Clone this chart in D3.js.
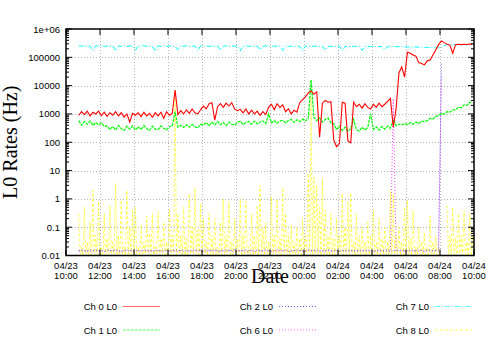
<!DOCTYPE html>
<html lang="en">
<head>
<meta charset="utf-8">
<title>L0 Rates</title>
<script src="https://cdnjs.cloudflare.com/ajax/libs/d3/7.8.5/d3.min.js"></script>
<style>
    body { margin: 0; background: #fff; }
    text { font-family: "Liberation Sans", Arial, sans-serif; font-size: 9.5px; fill: #000; }
    .title { font-family: "Liberation Serif", "Times New Roman", serif; font-size: 20px; }
</style>
</head>
<body>
<div id="chart"></div>
<script>
    // rates sampled every 10 minutes (ch8 every 5), starting 04/23 10:45
    var startTime = Date.UTC(2013, 3, 23, 10, 45);
    var stepMinutes = 10;
    var ch8StepMinutes = 5;

    var yTickLabels = ["0.01", "0.1", "1", "10", "100", "1000", "10000", "100000", "1e+06"];

    var ch0 = [900, 1200, 950, 1250, 850, 1150, 1000, 1250, 880, 1150, 820, 1100, 900, 1200, 850, 1100, 780,
        1000, 520, 1050, 900, 1100, 800, 1150, 850, 1050, 760, 1100, 850, 1150, 700, 1200, 900, 1050, 7000,
        950, 1300, 1000, 1400, 1050, 1500, 1100, 1000, 1400, 1900, 1500, 2300, 2500, 600,
        1800, 2300, 1700, 2400, 1900, 2500, 1500, 1300, 1450, 1100, 1500, 1000, 1350, 1000, 1250, 900, 1200, 950,
        1700, 2200, 1400, 2300, 1700, 2100, 1200, 1500, 1000, 1350, 1150,
        2500, 3200, 4000, 5500, 6500, 5000, 6000, 150, 2400, 3000, 2600, 2700, 120, 70, 90, 2600, 2400, 110, 95,
        2600, 1800, 2200, 1600, 2300, 1700, 1500, 2200, 1700, 2400, 1800, 2200, 2800, 3500, 340, 1500,
        28000, 46000, 20000, 150000, 140000, 120000, 110000, 65000, 60000, 54000, 75000, 80000, 120000,
        180000, 280000, 380000, 330000, 290000, 270000, 140000, 280000, 290000, 280000, 290000, 285000,
        295000, 290000];

    var ch1 = [580, 400, 540, 430, 560, 390, 500, 410, 480, 360,
        380, 280, 360, 270, 390, 300, 260, 370, 290, 380, 270, 350, 280, 390, 300, 260, 370, 290, 280, 380,
        310, 270, 360, 370, 1200, 340, 400, 330, 410, 340, 430, 350, 320, 430,
        400, 500, 380, 510, 410, 540, 420, 500, 390, 520, 430, 400, 510, 550, 420, 500, 540, 430, 560, 440,
        520, 570, 450, 1000, 480, 590, 460, 560, 600, 480, 580, 640, 500, 620, 530, 660, 560, 700, 16000,
        760, 580, 720, 520, 640, 720, 480, 450, 280, 370, 260, 340, 240, 300, 650, 280, 250, 340, 270, 330,
        1000, 280, 350, 270, 360, 290, 370, 310, 650, 380, 440, 410, 460, 420, 490, 430, 520, 460, 560, 540,
        580, 700, 660, 820, 860, 1050, 980, 1200, 1150, 1400, 1380, 1750, 1650, 2100, 2000, 2600, 2500];

    var ch2 = [0.015, 0.016, 0.015, 0.014, 0.016, 0.015, 0.016, 0.015, 0.015, 0.014, 0.016, 0.015, 0.015,
        0.016, 0.015, 0.014, 0.015, 0.016, 0.015, 0.015, 0.016, 0.014, 0.015, 0.016, 0.015, 0.015, 0.014,
        0.016, 0.015, 0.015, 0.016, 0.015, 0.014, 0.015, 0.016, 0.015, 0.015, 0.016, 0.014, 0.015, 0.015,
        0.016, 0.015, 0.015, 0.014, 0.016, 0.015, 0.015, 0.016, 0.015, 0.014, 0.015, 0.016, 0.015, 0.015,
        0.016, 0.014, 0.015, 0.015, 0.016, 0.015, 0.015, 0.014, 0.016, 0.015, 0.015, 0.016, 0.015, 0.014,
        0.015, 0.016, 0.015, 0.015, 0.016, 0.014, 0.015, 0.015, 0.016, 0.015, 0.015, 0.014, 0.016, 0.015,
        0.015, 0.016, 0.015, 0.014, 0.015, 0.016, 0.015, 0.015, 0.016, 0.014, 0.015, 0.015, 0.016, 0.015,
        0.015, 0.014, 0.016, 0.015, 0.015, 0.016, 0.015, 0.014, 0.015, 0.016, 0.015, 0.015, 0.016, 0.014,
        0.015, 0.015, 0.016, 0.015, 0.015, 0.014, 0.016, 0.015, 0.015, 0.016, 0.015, 0.014, 0.015, 0.016,
        0.015, 0.015, 0.016, 60000];

    var ch6 = [0.014, 0.015, 0.014, 0.015, 0.014, 0.014, 0.015, 0.014, 0.015, 0.014, 0.014, 0.015, 0.014,
        0.015, 0.014, 0.014, 0.015, 0.014, 0.015, 0.014, 0.014, 0.015, 0.014, 0.015, 0.014, 0.014, 0.015,
        0.014, 0.015, 0.014, 0.014, 0.015, 0.014, 0.015, 0.014, 0.014, 0.015, 0.014, 0.015, 0.014, 0.014,
        0.015, 0.014, 0.015, 0.014, 0.014, 0.015, 0.014, 0.015, 0.014, 0.014, 0.015, 0.014, 0.015, 0.014,
        0.014, 0.015, 0.014, 0.015, 0.014, 0.014, 0.015, 0.014, 0.015, 0.014, 0.014, 0.015, 0.014, 0.015,
        0.014, 0.014, 0.015, 0.014, 0.015, 0.014, 0.014, 0.015, 0.014, 0.015, 0.014, 0.014, 0.015, 0.014,
        0.015, 0.014, 0.014, 0.015, 0.014, 0.015, 0.014, 0.014, 0.015, 0.014, 0.015, 0.014, 0.014, 0.015,
        0.014, 0.015, 0.014, 0.014, 0.015, 0.014, 0.015, 0.014, 0.014, 0.015, 0.014, 0.015, 0.014, 0.014,
        3500, 0.014, 0.015, 0.014, 0.014, 0.015, 0.014, 0.015, 0.014, 0.014, 0.015, 0.014, 0.015, 0.014,
        0.014, 0.015, 0.014, 20000];

    var ch7 = [255000, 245000, 260000, 240000, 250000, 175000, 255000, 248000, 262000, 238000, 252000,
        246000, 258000, 170000, 250000, 244000, 256000, 240000, 252000, 248000, 180000, 254000, 246000,
        258000, 242000, 250000, 247000, 165000, 255000, 243000, 257000, 241000, 251000, 249000, 246000,
        185000, 254000, 244000, 256000, 240000, 250000, 248000, 172000, 253000, 245000, 257000, 242000,
        251000, 247000, 255000, 178000, 244000, 256000, 241000, 250000, 248000, 254000, 168000, 245000,
        256000, 242000, 250000, 247000, 253000, 182000, 244000, 255000, 241000, 249000, 246000, 252000,
        243000, 175000, 254000, 240000, 250000, 246000, 252000, 244000, 170000, 253000, 241000, 248000,
        245000, 251000, 242000, 250000, 180000, 246000, 240000, 249000, 243000, 250000, 165000, 245000,
        238000, 248000, 242000, 247000, 240000, 175000, 246000, 238000, 244000, 240000, 245000, 236000,
        243000, 185000, 240000, 235000, 242000, 236000, 240000, 233000, 238000, 230000, 236000, 228000,
        232000, 225000, 230000, 222000, 226000, 218000, 222000, 215000, 220000, 225000, 260000, 280000,
        275000, 285000, 278000, 282000, 276000, 284000, 279000, 283000, 280000, 285000, 282000];

    var ch8 = [0.3, 0.008, 0.02, 0.01, 0.5, 0.007, 0.03, 0.009, 0.15, 0.008, 2.0, 0.01, 0.05, 0.007, 0.8, 0.009,
        0.02, 0.008, 0.3, 0.01, 0.04, 0.007, 0.6, 0.009, 0.03, 0.008, 3.5, 0.01, 0.05, 0.007, 0.9, 0.009,
        0.02, 0.008, 2.0, 0.01, 0.1, 0.007, 0.4, 0.009, 0.5, 0.008, 0.02, 0.01, 0.12, 0.007, 0.03, 0.009,
        0.25, 0.008, 0.06, 0.01, 0.3, 0.007, 0.02, 0.009, 0.35, 0.008, 0.04, 0.01, 0.15, 0.007, 0.03, 0.009,
        0.4, 0.008, 0.05, 0.01, 7000, 0.007, 0.3, 0.009, 0.05, 0.008, 0.5, 0.01, 0.04, 0.007, 1.5, 0.009,
        0.1, 0.008, 2.5, 0.01, 0.08, 0.007, 0.7, 0.009, 0.2, 0.008, 0.03, 0.01, 0.3, 0.007, 0.05, 0.009,
        0.2, 0.008, 0.02, 0.01, 0.15, 0.007, 1.0, 0.009, 0.05, 0.008, 0.8, 0.01, 0.03, 0.007, 0.2, 0.009,
        0.04, 0.008, 1.0, 0.01, 0.06, 0.007, 0.8, 0.009, 0.02, 0.008, 0.3, 0.01, 0.05, 0.007, 0.6, 0.009,
        3.0, 0.008, 0.1, 0.01, 0.15, 0.007, 0.03, 0.009, 1.2, 0.008, 0.05, 0.01, 1.0, 0.007, 0.04, 0.009,
        2.5, 0.008, 0.3, 0.01, 0.05, 0.007, 0.12, 0.009, 0.03, 0.008, 0.1, 0.01, 0.04, 0.007, 0.2, 0.009,
        0.05, 0.008, 8, 0.01, 4000, 0.007, 6, 0.009, 3, 0.008, 0.5, 0.01, 5, 0.007, 0.4, 0.009,
        0.05, 0.008, 0.3, 0.01, 0.04, 0.007, 0.2, 0.009, 0.05, 0.008, 1.5, 0.01, 0.1, 0.007, 0.8, 0.009,
        1.6, 0.008, 0.03, 0.01, 0.3, 0.007, 0.05, 0.009, 0.1, 0.008, 0.03, 0.01, 0.15, 0.007, 0.05, 0.009,
        0.4, 0.008, 0.03, 0.01, 0.2, 0.007, 0.04, 0.009, 0.1, 0.008, 0.03, 0.01, 2.0, 0.007, 1.5, 0.009,
        0.05, 0.008, 0.1, 0.01, 0.03, 0.007, 0.5, 0.009, 0.9, 0.008, 0.04, 0.01, 0.4, 0.007, 0.02, 0.009,
        0.1, 0.008, 0.03, 0.01, 0.06, 0.007, 0.02, 0.009, 0.25, 0.008, 0.03, 0.01, 0.05, 0.007, 0.02, 0.009,
        null, null, null, null, 0.6, 0.008, 0.05, 0.01, 0.5, 0.007, 0.04, 0.009, 0.3, 0.008, 0.05, 0.01,
        0.4, 0.007, 0.03, 0.009, 0.3, 0.008, 0.05, 0.01];

    var series = [
        { name: "Ch 8 L0", values: ch8, step: ch8StepMinutes, color: "#ffff00", dash: "3,2", width: 0.8, opacity: 0.8 },
        { name: "Ch 6 L0", values: ch6, step: stepMinutes, color: "#ff00ff", dash: "1,2", width: 1, opacity: 0.7 },
        { name: "Ch 2 L0", values: ch2, step: stepMinutes, color: "#0000ff", dash: "1,2", width: 1, opacity: 0.6 },
        { name: "Ch 1 L0", values: ch1, step: stepMinutes, color: "#00ff00", dash: "3,1", width: 1.2, opacity: 1 },
        { name: "Ch 7 L0", values: ch7, step: stepMinutes, color: "#00ffff", dash: "5,2,1,2", width: 1, opacity: 1 },
        { name: "Ch 0 L0", values: ch0, step: stepMinutes, color: "#ff0000", dash: null, width: 1.1, opacity: 1 }
    ];
    var legendOrder = ["Ch 0 L0", "Ch 1 L0", "Ch 2 L0", "Ch 6 L0", "Ch 7 L0", "Ch 8 L0"];

    var W = 491, H = 343;
    var plotL = 66, plotR = 474, plotT = 29, plotB = 255.5;

    var svg = d3.select("#chart").append("svg").attr("width", W).attr("height", H);

    var x = d3.scaleUtc()
        .domain([new Date(Date.UTC(2013, 3, 23, 10)), new Date(Date.UTC(2013, 3, 24, 10))])
        .range([plotL, plotR]);
    var y = d3.scaleLog().domain([0.01, 1e6]).range([plotB, plotT]);

    var xTicks = x.ticks(d3.utcHour.every(2));
    var yTicks = yTickLabels.map(Number);

    // grid
    var grid = svg.append("g").attr("stroke", "#b4b4b4").attr("stroke-dasharray", "1,2").attr("stroke-width", 1);
    grid.selectAll(".gx").data(xTicks.slice(1, -1)).enter().append("line")
        .attr("x1", d => Math.round(x(d)) + 0.5).attr("x2", d => Math.round(x(d)) + 0.5)
        .attr("y1", plotT).attr("y2", plotB);
    grid.selectAll(".gy").data(yTicks.slice(1, -1)).enter().append("line")
        .attr("x1", plotL).attr("x2", plotR)
        .attr("y1", d => Math.round(y(d)) + 0.5).attr("y2", d => Math.round(y(d)) + 0.5);

    svg.append("clipPath").attr("id", "plot").append("rect")
        .attr("x", plotL).attr("y", plotT).attr("width", plotR - plotL).attr("height", plotB - plotT);

    var line = d3.line()
        .defined(d => d[1] != null)
        .x(d => x(d[0]))
        .y(d => y(d[1]));

    var lines = svg.append("g").attr("clip-path", "url(#plot)");
    series.forEach(function (s) {
        var pts = s.values.map((v, i) => [new Date(startTime + i * s.step * 60000), v]);
        lines.append("path")
            .attr("d", line(pts))
            .attr("fill", "none")
            .attr("stroke", s.color)
            .attr("stroke-width", s.width)
            .attr("stroke-opacity", s.opacity)
            .attr("stroke-dasharray", s.dash);
    });

    // axes box and ticks
    var axis = svg.append("g").attr("stroke", "#000");
    var minor = [];
    for (var e = -2; e < 6; e++) for (var m = 2; m < 10; m++) minor.push(m * Math.pow(10, e));
    axis.selectAll(".my").data(minor).enter().append("path")
        .attr("d", d => "M" + plotL + "," + y(d) + "h3M" + plotR + "," + y(d) + "h-3");
    axis.selectAll(".ty").data(yTicks).enter().append("path")
        .attr("d", d => "M" + plotL + "," + y(d) + "h6M" + plotR + "," + y(d) + "h-6");
    axis.selectAll(".tx").data(xTicks).enter().append("path")
        .attr("d", d => "M" + x(d) + "," + plotB + "v-6M" + x(d) + "," + plotT + "v6");
    axis.append("rect").attr("x", plotL).attr("y", plotT).attr("width", plotR - plotL).attr("height", plotB - plotT)
        .attr("fill", "none").attr("stroke-width", 1.5);

    svg.selectAll(".ly").data(yTicks).enter().append("text")
        .attr("x", plotL - 6).attr("y", d => y(d) + 3.5)
        .attr("text-anchor", "end")
        .text((d, i) => yTickLabels[i]);

    var fmtDay = d3.utcFormat("%m/%d"), fmtHour = d3.utcFormat("%H:%M");
    var xl = svg.selectAll(".lx").data(xTicks).enter().append("text")
        .attr("text-anchor", "middle");
    xl.append("tspan").attr("x", d => x(d)).attr("y", 269).text(d => fmtDay(d));
    xl.append("tspan").attr("x", d => x(d)).attr("y", 278.5).text(d => fmtHour(d));

    svg.append("text").attr("class", "title")
        .attr("x", (plotL + plotR) / 2).attr("y", 283).attr("text-anchor", "middle").text("Date");
    svg.append("text").attr("class", "title")
        .attr("transform", "translate(17," + (plotT + plotB) / 2 + ") rotate(-90)")
        .attr("text-anchor", "middle").text("L0 Rates (Hz)");

    // legend, 3 columns x 2 rows
    var legendX = [117, 273, 429], legendY = [306.5, 330];
    legendOrder.forEach(function (name, k) {
        var s = series.find(d => d.name === name);
        var lx = legendX[Math.floor(k / 2)], ly = legendY[k % 2];
        svg.append("text").attr("x", lx).attr("y", ly + 3.5).attr("text-anchor", "end").text(name);
        svg.append("line").attr("x1", lx + 6).attr("x2", lx + 43).attr("y1", ly).attr("y2", ly)
            .attr("stroke", s.color).attr("stroke-width", 1).attr("stroke-opacity", 0.6)
            .attr("stroke-dasharray", s.dash);
    });
</script>
</body>
</html>
